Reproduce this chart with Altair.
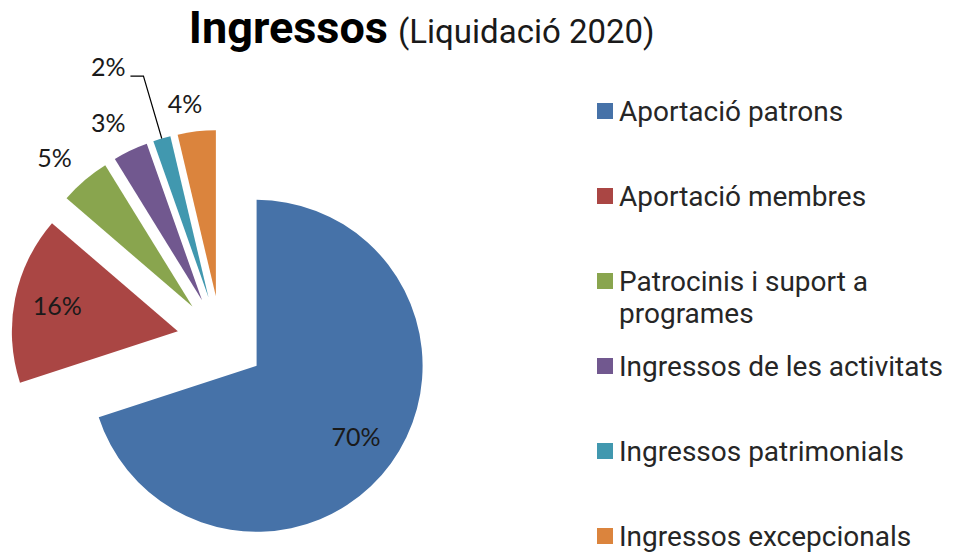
import math
import textwrap
import pandas as pd
import altair as alt

# ---------------- data ----------------
categories = [
    "Aportació patrons",
    "Aportació membres",
    "Patrocinis i suport a programes",
    "Ingressos de les activitats",
    "Ingressos patrimonials",
    "Ingressos excepcionals",
]
values = [70.0, 16.3, 4.9, 3.4, 1.7, 3.7]
colors = ["#4672A8", "#AA4644", "#89A54E", "#71588F", "#4198AF", "#DB843D"]

title_main = "Ingressos"
title_sub = "(Liquidació 2020)"

# ---------------- layout ----------------
W, H = 939, 547
CX, CY = 213, 332        # pie centre (before explosion)
R = 166                   # pie radius
EXPLODE = 44              # explosion distance of every slice
IN_R = 123                # inside label radius
OUT_GAP, LAB_W, LAB_H = 13, 45, 22   # outside label spacing / label box
LEADER_R = 231
LEG_X, LEG_TOP, LEG_STEP = 597, 103, 85.0

total = sum(values)
rows = []
cum = 0.0
for cat, v in zip(categories, values):
    start, end = cum, cum + v
    cum = end
    mid = (start + end) / 2 / total * 2 * math.pi
    vx = CX + EXPLODE * math.sin(mid)
    vy = CY - EXPLODE * math.cos(mid)
    pct = v / total * 100
    rows.append(dict(category=cat, value=v, start=start, end=end, mid=mid,
                     vx=vx, vy=vy, label=f"{round(pct)}%", pct=pct))
pie = pd.DataFrame(rows)

lab_rows, lead_lab, lead_pts = [], [], []
for r in rows:
    if r["pct"] >= 10:
        rad, ang = IN_R, r["mid"]
    elif r["pct"] >= 2:
        ang = r["mid"] - math.radians(2.5)
        rad = R + OUT_GAP + abs(math.sin(ang)) * LAB_W / 2 + abs(math.cos(ang)) * LAB_H / 2
    else:
        p0 = (r["vx"] + R * math.sin(r["mid"]), r["vy"] - R * math.cos(r["mid"]))
        p1 = (r["vx"] + LEADER_R * math.sin(r["mid"]), r["vy"] - LEADER_R * math.cos(r["mid"]))
        p2 = (p1[0] - 13, p1[1])
        for i, p in enumerate([p0, p1, p2]):
            lead_pts.append(dict(category=r["category"], o=i, x=p[0], y=p[1]))
        lead_lab.append(dict(label=r["label"], x=p2[0] - 5, y=p2[1]))
        continue
    lab_rows.append(dict(label=r["label"],
                         x=r["vx"] + rad * math.sin(ang),
                         y=r["vy"] - rad * math.cos(ang)))
labels = pd.DataFrame(lab_rows)
leader_labels = pd.DataFrame(lead_lab)
leader_pts = pd.DataFrame(lead_pts)

legend = pd.DataFrame(dict(
    category=categories,
    text=["\n".join(textwrap.wrap(c, 27)) for c in categories],
    y=[LEG_TOP + i * LEG_STEP for i in range(len(categories))],
))

xs = alt.Scale(domain=[0, W], range=[0, W])
ys = alt.Scale(domain=[0, H], range=[0, H])
cscale = alt.Scale(domain=categories, range=colors)

arcs = alt.Chart(pie).mark_arc(radius=R).encode(
    x=alt.X("vx:Q", scale=xs, axis=None),
    y=alt.Y("vy:Q", scale=ys, axis=None),
    theta=alt.Theta("start:Q", scale=alt.Scale(domain=[0, total], range=[0, 2 * math.pi]), stack=None),
    theta2="end:Q",
    color=alt.Color("category:N", scale=cscale, legend=None),
)

pct_text = alt.Chart(labels).mark_text(
    font="Lato", fontSize=25, color="#1a1a1a", align="center", baseline="middle"
).encode(x=alt.X("x:Q", scale=xs, axis=None), y=alt.Y("y:Q", scale=ys, axis=None), text="label:N")

leader = alt.Chart(leader_pts).mark_line(color="#000000", strokeWidth=1.2).encode(
    x=alt.X("x:Q", scale=xs, axis=None), y=alt.Y("y:Q", scale=ys, axis=None), order="o:Q"
)

leader_text = alt.Chart(leader_labels).mark_text(
    font="Lato", fontSize=25, color="#1a1a1a", align="right", baseline="alphabetic"
).encode(x=alt.X("x:Q", scale=xs, axis=None), y=alt.Y("y:Q", scale=ys, axis=None), text="label:N")

leg_sym = alt.Chart(legend).mark_square(size=256, opacity=1).encode(
    x=alt.value(LEG_X),
    y=alt.Y("y:Q", scale=ys, axis=None),
    color=alt.Color("category:N", scale=cscale, legend=None),
)

leg_txt = alt.Chart(legend).mark_text(
    font="Roboto", fontSize=28, color="#262626", align="left", baseline="alphabetic",
    dy=10, lineBreak="\n", lineHeight=32,
).encode(
    x=alt.value(LEG_X + 14),
    y=alt.Y("y:Q", scale=ys, axis=None),
    text="text:N",
)

t_main = alt.Chart(pd.DataFrame({"t": [title_main]})).mark_text(
    font="Roboto", fontSize=45, fontWeight="bold", color="#000000", align="right", baseline="alphabetic"
).encode(x=alt.value(380), y=alt.value(35), text="t:N")

t_sub = alt.Chart(pd.DataFrame({"t": [title_sub]})).mark_text(
    font="Roboto", fontSize=33, color="#1a1a1a", align="left", baseline="alphabetic"
).encode(x=alt.value(390), y=alt.value(35), text="t:N")

chart = alt.layer(arcs, pct_text, leader, leader_text, leg_sym, leg_txt, t_main, t_sub).properties(
    width=W, height=H, autosize=alt.AutoSizeParams(type="none"), padding=0
).configure_view(stroke=None)

chart.save("out.html", embed_options={"renderer": "svg", "actions": False})
